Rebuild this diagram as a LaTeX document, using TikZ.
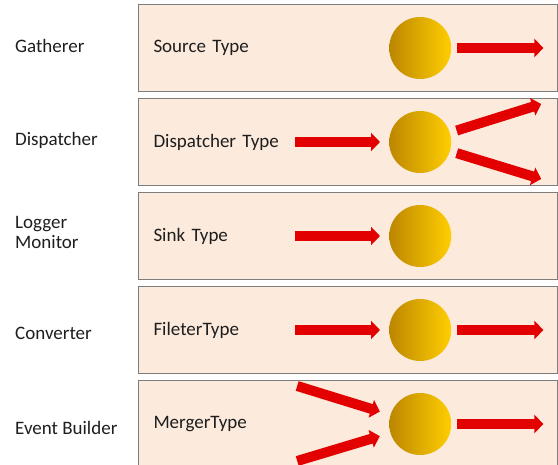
\documentclass[tikz,border=0pt]{standalone}
\usepackage{fontspec}
\setmainfont{Carlito}
\usetikzlibrary{arrows.meta, positioning, calc}

\definecolor{boxfill}{RGB}{252,234,220}
\definecolor{boxline}{RGB}{125,125,125}
\definecolor{golddark}{RGB}{188,134,0}
\definecolor{goldlight}{RGB}{255,206,0}
\definecolor{arrowred}{RGB}{226,0,0}
\definecolor{textgray}{RGB}{30,30,30}

\tikzset{
  typebox/.style={draw=boxline, fill=boxfill, line width=1pt, anchor=north west,
    minimum height=87pt, text width=389pt, inner xsep=15pt, align=left,
    text=textgray, font=\fontsize{19pt}{20pt}\selectfont},
  rolelabel/.style={anchor=west, align=left, inner sep=0pt,
    text=textgray, font=\fontsize{19pt}{20pt}\selectfont},
  proc/.style={circle, minimum size=62pt, inner sep=0pt,
    left color=golddark, right color=goldlight},
  fatarrow/.style={draw=arrowred, line width=10pt,
    -{Triangle[length=9pt, width=18pt]}},
}

\begin{document}
\begin{tikzpicture}[x=1pt, y=1pt]
\useasboundingbox (0,0) rectangle (558,-465);
\coordinate (leftedge) at (15,0);

% one row per component: role, box, and its processing unit
\foreach \i/\role/\kind/\ry in {1/Gatherer/Source Type/46,
    2/Dispatcher/Dispatcher Type/140, 3/{Logger\\Monitor}/Sink Type/232,
    4/Converter/FileterType/333, 5/Event Builder/MergerType/428} {
  \node[typebox] (box\i) at (138,{-4-94*(\i-1)}) {\kind};
  \node[rolelabel] (role\i) at (15,-\ry) {\role};
  \node[proc, right=251pt of box\i.west] (c\i) {};
}

% free ends of the arrows
\coordinate[right=92pt of c1] (o1);
\coordinate[left=94pt of c2] (i2);
\coordinate (o2a) at ($(c2)+(121,38)$);
\coordinate (o2b) at ($(c2)+(121,-37)$);
\coordinate[left=94pt of c3] (i3);
\coordinate[left=94pt of c4] (i4);
\coordinate[right=92pt of c4] (o4);
\coordinate (i5a) at ($(c5)+(-123,38)$);
\coordinate (i5b) at ($(c5)+(-123,-37)$);
\coordinate[right=92pt of c5] (o5);

% source
\draw[fatarrow, shorten <=6pt] (c1) -- (o1);
% dispatcher
\draw[fatarrow, shorten >=9pt] (i2) -- (c2);
\draw[fatarrow, shorten <=7pt] (c2) -- (o2a);
\draw[fatarrow, shorten <=7pt] (c2) -- (o2b);
% sink
\draw[fatarrow, shorten >=9pt] (i3) -- (c3);
% filter
\draw[fatarrow, shorten >=9pt] (i4) -- (c4);
\draw[fatarrow, shorten <=6pt] (c4) -- (o4);
% merger
\draw[fatarrow, shorten >=11pt] (i5a) -- (c5);
\draw[fatarrow, shorten >=11pt] (i5b) -- (c5);
\draw[fatarrow, shorten <=6pt] (c5) -- (o5);
\end{tikzpicture}
\end{document}
